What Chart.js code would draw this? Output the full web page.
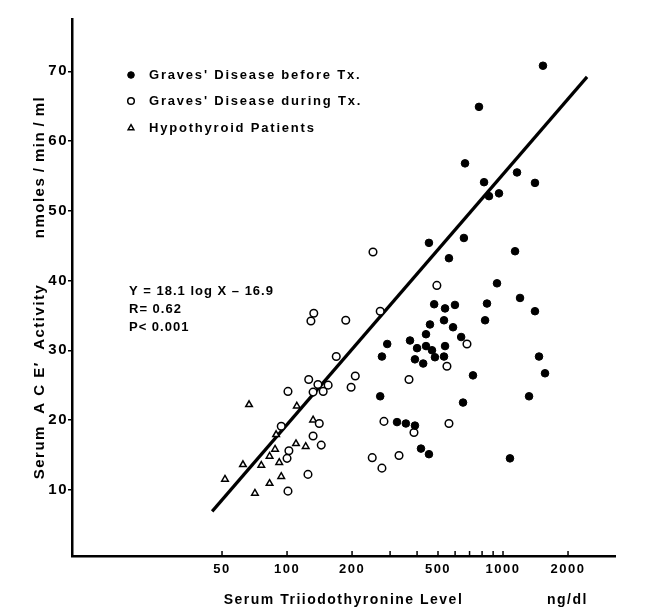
<!DOCTYPE html>
<html>
<head>
<meta charset="utf-8">
<script src="https://cdn.jsdelivr.net/npm/chart.js@4.4.1/dist/chart.umd.min.js"></script>
<style>
  html, body { margin:0; padding:0; background:#fff; }
  canvas { display:block; }
</style>
</head>
<body>
<canvas id="c" width="647" height="613"></canvas>
<script>
// ==== Data ====
const beforeX = [1531, 774, 667, 817, 1161, 1406, 861, 958, 454, 659, 562, 1137,
  938, 1199, 1406, 480, 539, 599, 843, 826, 533, 459, 587, 440, 640, 371, 291, 400,
  440, 469, 539, 484, 533, 391, 427, 275, 1468, 1565, 726, 270, 1320, 653, 323, 355,
  391, 417, 454, 1077];
const beforeY = [70.8, 64.9, 56.8, 54.1, 55.5, 54.0, 52.1, 52.5, 45.4, 46.1, 43.2, 44.2,
  39.6, 37.5, 35.6, 36.6, 36.0, 36.5, 36.7, 34.3, 34.3, 33.7, 33.3, 32.3, 31.9, 31.4, 30.9, 30.3,
  30.6, 30.0, 30.6, 29.0, 29.1, 28.7, 28.1, 29.1, 29.1, 26.7, 26.4, 23.4, 23.4, 22.5, 19.7, 19.5,
  19.2, 15.9, 15.1, 14.5];

const duringX = [133, 129, 187, 270, 169, 126, 207, 198, 139, 155, 132, 147, 101,
  141, 94, 132, 144, 102, 100, 125, 101, 248, 275, 281, 330,
  494, 681, 550, 367, 387, 562, 250];
const duringY = [35.3, 34.2, 34.3, 35.6, 29.1, 25.8, 26.3, 24.7, 25.1, 25.0, 24.0, 24.1, 24.1,
  19.5, 19.1, 17.7, 16.4, 15.6, 14.5, 12.2, 9.8, 14.6, 13.1, 19.8, 14.9,
  39.3, 30.9, 27.7, 25.8, 18.2, 19.5, 44.1];

const hypoX = [66.7, 111, 132, 89, 110, 122, 88, 83, 62.5, 76, 92, 51.6, 94, 83, 71];
const hypoY = [22.2, 22.0, 20.0, 17.9, 16.6, 16.2, 15.8, 14.8, 13.6, 13.5, 13.9, 11.5, 11.9, 10.9, 9.5];

// regression line as drawn
const fitX = [45, 2450];
const fitY = [6.9, 69.2];

const xTickValues = [50, 100, 200, 300, 400, 500, 600, 700, 800, 900, 1000, 2000];
const xTickLabels = [50, 100, 200, 500, 1000, 2000];
const yTickValues = [10, 20, 30, 40, 50, 60, 70];

const legendLabels = ["Graves' Disease before Tx.", "Graves' Disease during Tx.", "Hypothyroid Patients"];
const statLines = ["Y = 18.1 log X \u2013 16.9", "R= 0.62", "P< 0.001"];

const FONT = "'Liberation Sans', Arial, Helvetica, sans-serif";
const pts = (xs, ys) => xs.map((x, i) => ({x, y: ys[i]}));

// ==== overlay: inward x ticks, legend, stats, unit ====
const overlay = {
  id: 'overlay',
  beforeDraw(chart){
    chart.ctx.letterSpacing = '1.5px';
  },
  afterDraw(chart){
    const ctx = chart.ctx;
    const xs = chart.scales.x;
    const bottom = chart.chartArea.bottom;
    ctx.save();
    ctx.strokeStyle = '#000';
    ctx.lineWidth = 1.5;
    xTickValues.forEach(v => {
      const px = xs.getPixelForValue(v);
      ctx.beginPath(); ctx.moveTo(px, bottom); ctx.lineTo(px, bottom - 5); ctx.stroke();
    });

    // legend
    const styles = chart.data.datasets.slice(0, 3);
    ctx.font = 'bold 13px ' + FONT;
    ctx.letterSpacing = '1.8px';
    ctx.textBaseline = 'middle';
    ctx.textAlign = 'left';
    ctx.fillStyle = '#000';
    const rows = [75, 101, 128];
    styles.forEach((ds, i) => {
      ctx.save();
      ctx.fillStyle = ds.backgroundColor;
      ctx.strokeStyle = ds.borderColor;
      ctx.lineWidth = ds.borderWidth;
      Chart.helpers.drawPoint(ctx, {pointStyle: ds.pointStyle, radius: ds.pointRadius - 0.5, borderWidth: ds.borderWidth}, 131, rows[i]);
      ctx.restore();
      ctx.fillText(legendLabels[i], 149, rows[i]);
    });

    // stats
    ctx.letterSpacing = '1px';
    [291, 309, 327].forEach((y, i) => ctx.fillText(statLines[i], 129, y));

    // unit
    ctx.font = 'bold 14px ' + FONT;
    ctx.letterSpacing = '1.5px';
    ctx.fillText('ng/dl', 547, 600);
    ctx.restore();
  }
};

new Chart(document.getElementById('c'), {
  type: 'scatter',
  data: {
    datasets: [
      { label: legendLabels[0], data: pts(beforeX, beforeY), pointStyle: 'circle',
        pointRadius: 3.8, backgroundColor: '#000', borderColor: '#000', borderWidth: 1 },
      { label: legendLabels[1], data: pts(duringX, duringY), pointStyle: 'circle',
        pointRadius: 3.8, backgroundColor: '#fff', borderColor: '#000', borderWidth: 1.5 },
      { label: legendLabels[2], data: pts(hypoX, hypoY), pointStyle: 'triangle',
        pointRadius: 3.8, backgroundColor: '#fff', borderColor: '#000', borderWidth: 1.5 },
      { label: 'fit', type: 'line', data: pts(fitX, fitY), showLine: true,
        borderColor: '#000', borderWidth: 3.2, pointRadius: 0, fill: false }
    ]
  },
  options: {
    responsive: false,
    animation: false,
    layout: { padding: { left: 0, top: 19, right: 32, bottom: 0 } },
    plugins: { legend: { display: false }, tooltip: { enabled: false } },
    scales: {
      x: {
        type: 'logarithmic',
        min: 10.1, max: 3300,
        afterFit: s => { s.height = 57; },
        afterBuildTicks: s => { s.ticks = xTickValues.map(v => ({value: v})); },
        grid: { display: false, drawTicks: false },
        border: { display: true, color: '#000', width: 2.5 },
        ticks: {
          autoSkip: false, maxRotation: 0, padding: 6, color: '#000',
          font: { family: FONT, size: 13, weight: 'bold' },
          callback: v => xTickLabels.includes(v) ? String(v) : ''
        },
        title: {
          display: true, text: 'Serum Triiodothyronine Level', color: '#000',
          font: { family: FONT, size: 14, weight: 'bold' },
          padding: { top: 0, bottom: 4 }
        }
      },
      y: {
        min: 0.5, max: 77.5,
        afterFit: s => { s.width = 72; },
        afterBuildTicks: s => { s.ticks = yTickValues.map(v => ({value: v})); },
        grid: { drawOnChartArea: false, drawTicks: true, tickLength: 4, color: '#000', lineWidth: 1.5 },
        border: { display: true, color: '#000', width: 2.5 },
        ticks: {
          padding: 0, color: '#000',
          font: { family: FONT, size: 15, weight: 'bold' }
        },
        title: {
          display: true, text: "Serum  A C E\u2032  Activity        nmoles\u2009/\u2009min\u2009/\u2009ml", color: '#000',
          font: { family: FONT, size: 15, weight: 'bold' },
          padding: { top: 31, bottom: 0 }
        }
      }
    }
  },
  plugins: [overlay]
});
</script>
</body>
</html>
